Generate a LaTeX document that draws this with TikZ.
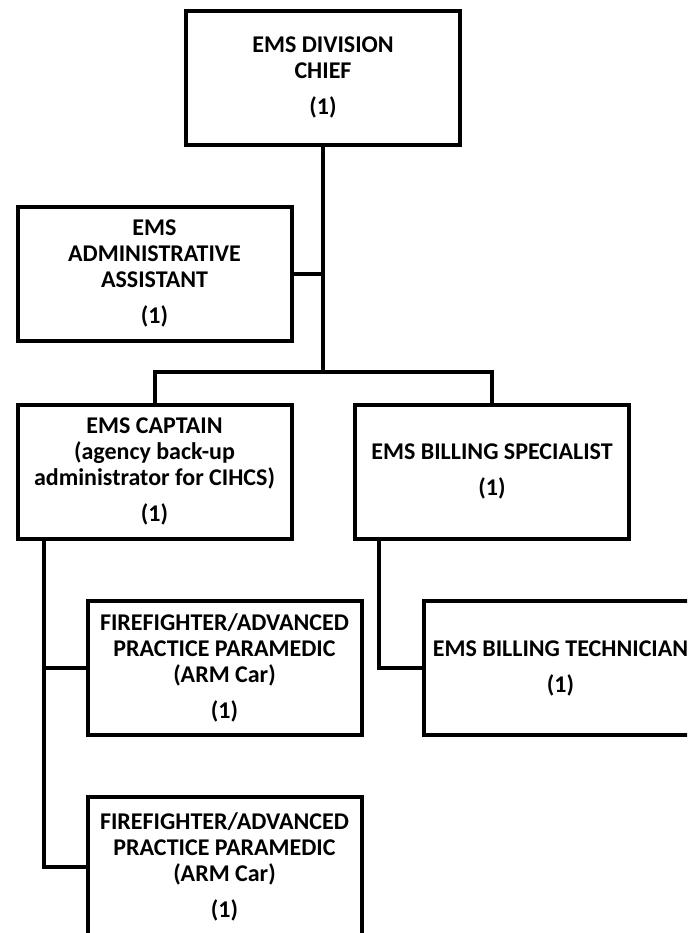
\documentclass[tikz,border=0pt]{standalone}
\usepackage{fontspec}
\setmainfont{Carlito}
\tikzset{
  post/.style={draw, line width=2pt, minimum width=137pt, minimum height=67pt,
    inner sep=0pt, align=center, font=\fontsize{12}{13}\selectfont\bfseries},
  link/.style={line width=2pt},
}
\begin{document}
\begin{tikzpicture}[x=0.5pt,y=-0.5pt]
\clip (0,0) rectangle (687,933);
% boxes
\node[post] (chief) at (323,77.5) {EMS DIVISION\\CHIEF\\[5pt](1)};
\node[post] (admin) at (154.5,273.5) {EMS\\ADMINISTRATIVE\\ASSISTANT\\[5pt](1)};
\node[post] (captain) at (154.5,471.5) {EMS CAPTAIN\\(agency back-up\\administrator for CIHCS)\\[5pt](1)};
\node[post] (billspec) at (492,471.5) {EMS BILLING SPECIALIST\\[5pt](1)};
\node[post] (ffa) at (224.5,668) {FIREFIGHTER/ADVANCED\\PRACTICE PARAMEDIC\\(ARM Car)\\[5pt](1)};
\node[post] (billtech) at (560.5,668) {EMS BILLING TECHNICIAN\\[5pt](1)};
\node[post, minimum height=70pt] (ffb) at (224.5,867) {FIREFIGHTER/ADVANCED\\PRACTICE PARAMEDIC\\(ARM Car)\\[5pt](1)};
% lines
\coordinate (split) at (323,372);
\coordinate (captrunk) at (44,539);
\coordinate (billtrunk) at (379,539);
\draw[link] (chief.south) -- (split);
\draw[link] (admin.east) -- (admin.east -| split);
\draw[link] (captain.north) |- (split) -| (billspec.north);
\draw[link] (captrunk) |- (ffa.west);
\draw[link] (captrunk) |- (ffb.west);
\draw[link] (billtrunk) |- (billtech.west);
\end{tikzpicture}
\end{document}
